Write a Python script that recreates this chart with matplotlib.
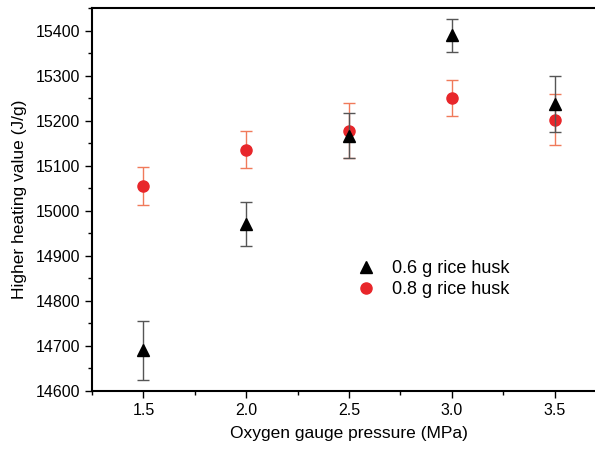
import matplotlib.pyplot as plt
from matplotlib.ticker import MultipleLocator

plt.rcParams['font.family'] = ['Liberation Sans', 'DejaVu Sans']

pressure = [1.5, 2.0, 2.5, 3.0, 3.5]
hhv_06 = [14690, 14970, 15167, 15389, 15236]
err_06 = [65, 49, 50, 37, 62]
hhv_08 = [15055, 15135, 15178, 15251, 15202]
err_08 = [43, 41, 62, 40, 57]

fig = plt.figure(figsize=(5.95, 4.5), dpi=100)
ax = fig.add_axes([92 / 595, 1 - 391 / 450, 514 / 595, 383 / 450])

ax.errorbar(pressure, hhv_06, yerr=err_06, fmt='^', color='black', markersize=8.5,
            ecolor='#555555', elinewidth=1, capsize=4, capthick=1,
            label='0.6 g rice husk', zorder=3)
ax.errorbar(pressure, hhv_08, yerr=err_08, fmt='o', color='#e8262a', markersize=8,
            ecolor='#f07a5a', elinewidth=1, capsize=4, capthick=1,
            label='0.8 g rice husk', zorder=2)

ax.set_xlim(1.25, 3.75)
ax.set_ylim(14600, 15450)
ax.xaxis.set_major_locator(MultipleLocator(0.5))
ax.xaxis.set_minor_locator(MultipleLocator(0.25))
ax.yaxis.set_major_locator(MultipleLocator(100))
ax.yaxis.set_minor_locator(MultipleLocator(50))
ax.xaxis.set_major_formatter(lambda v, p: f'{v:.1f}')
ax.tick_params(which='both', direction='out', top=False, right=False, labelsize=11.5, width=1)
ax.tick_params(which='major', length=5)
ax.tick_params(which='minor', length=3)
for s in ax.spines.values():
    s.set_linewidth(1.5)

ax.set_xlabel('Oxygen gauge pressure (MPa)', fontsize=12.5, labelpad=6)
ax.set_ylabel('Higher heating value (J/g)', fontsize=12.5, labelpad=6)

h, l = ax.get_legend_handles_labels()
h = [x[0] for x in h]
ax.legend(h, l, loc='center', bbox_to_anchor=(0.655, 0.292), frameon=False,
          fontsize=13, handletextpad=0.4, labelspacing=0.25)

fig.savefig('out.png', dpi=100)
